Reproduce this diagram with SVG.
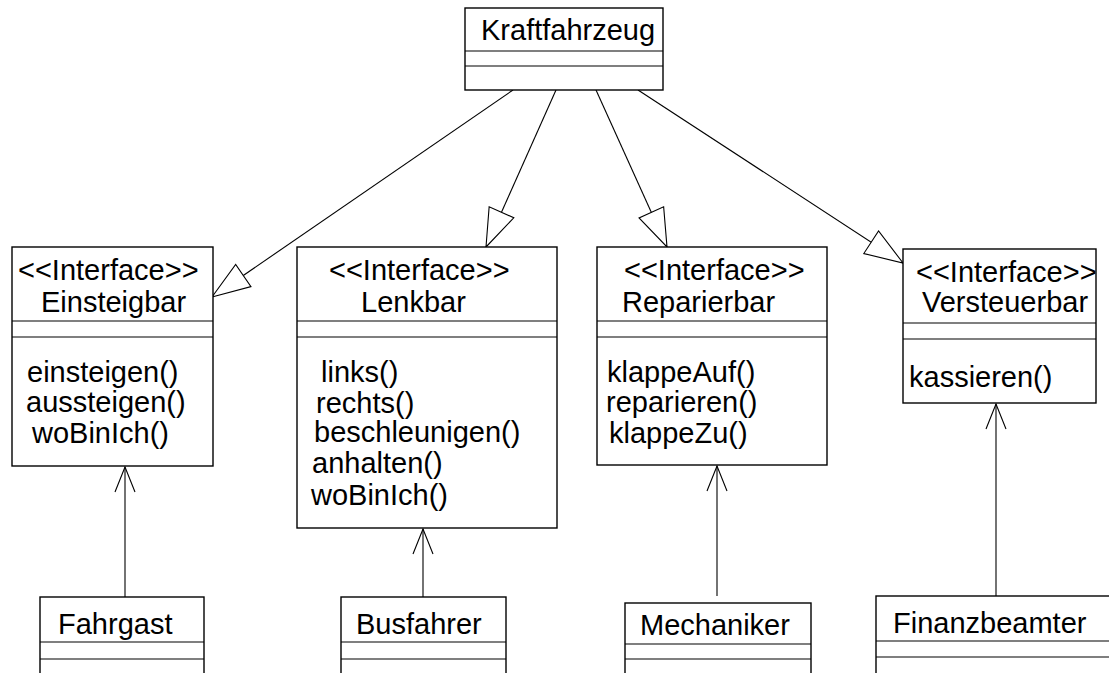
<svg xmlns="http://www.w3.org/2000/svg" width="1109" height="673" viewBox="0 0 1109 673">
  <style>
    .box { fill: #ffffff; stroke: #000000; stroke-width: 1.4; }
    .sep { stroke: #000000; stroke-width: 1.1; }
    .t { font-family: "Liberation Sans", Arial, sans-serif; font-size: 29px; fill: #000000; }
    .gen { fill: none; stroke: #000000; stroke-width: 1.1; marker-end: url(#hollow); }
    .dep { fill: none; stroke: #000000; stroke-width: 1.1; marker-end: url(#open); }
  </style>
  <defs>
    <!-- hollow triangle: generalization / realization -->
    <marker id="hollow" markerUnits="userSpaceOnUse" markerWidth="44" markerHeight="34" viewBox="-40 -17 44 34" refX="0" refY="0" orient="auto" overflow="visible">
      <path d="M0,0 L-38,-13.5 L-38,13.5 Z" fill="#ffffff" stroke="#000000" stroke-width="1.1"/>
    </marker>
    <!-- open arrowhead: usage dependency -->
    <marker id="open" markerUnits="userSpaceOnUse" markerWidth="30" markerHeight="26" viewBox="-28 -13 30 26" refX="0" refY="0" orient="auto" overflow="visible">
      <path d="M-25,-10 L0,0 L-25,10" fill="none" stroke="#000000" stroke-width="1.1"/>
    </marker>
  </defs>

  <!-- connectors -->
  <g id="connectors">
    <line class="gen" x1="513" y1="90" x2="212" y2="297"/>
    <line class="gen" x1="556" y1="90" x2="486" y2="247"/>
    <line class="gen" x1="596" y1="90" x2="667" y2="247"/>
    <line class="gen" x1="638" y1="90" x2="903" y2="263"/>
    <line class="dep" x1="125" y1="597" x2="125" y2="467"/>
    <line class="dep" x1="423" y1="597" x2="423" y2="529"/>
    <line class="dep" x1="717" y1="596" x2="717" y2="466"/>
    <line class="dep" x1="996" y1="596" x2="996" y2="404"/>
  </g>

  <!-- class Kraftfahrzeug -->
  <g id="kraftfahrzeug">
    <rect class="box" x="465" y="8" width="198" height="82"/>
    <line class="sep" x1="465" y1="51" x2="663" y2="51"/>
    <line class="sep" x1="465" y1="66" x2="663" y2="66"/>
    <text class="t" x="481" y="40">Kraftfahrzeug</text>
  </g>

  <!-- interface Einsteigbar -->
  <g id="einsteigbar">
    <rect class="box" x="12" y="247" width="201" height="219"/>
    <line class="sep" x1="12" y1="321" x2="213" y2="321"/>
    <line class="sep" x1="12" y1="337" x2="213" y2="337"/>
    <text class="t" x="18" y="280">&lt;&lt;Interface&gt;&gt;</text>
    <text class="t" x="41" y="312">Einsteigbar</text>
    <text class="t" x="27" y="382">einsteigen()</text>
    <text class="t" x="26" y="412">aussteigen()</text>
    <text class="t" x="32" y="443">woBinIch()</text>
  </g>

  <!-- interface Lenkbar -->
  <g id="lenkbar">
    <rect class="box" x="297" y="247" width="260" height="281"/>
    <line class="sep" x1="297" y1="321" x2="557" y2="321"/>
    <line class="sep" x1="297" y1="337" x2="557" y2="337"/>
    <text class="t" x="329" y="280">&lt;&lt;Interface&gt;&gt;</text>
    <text class="t" x="361" y="312">Lenkbar</text>
    <text class="t" x="321" y="382">links()</text>
    <text class="t" x="316" y="413">rechts()</text>
    <text class="t" x="314" y="442">beschleunigen()</text>
    <text class="t" x="312" y="473">anhalten()</text>
    <text class="t" x="311" y="505">woBinIch()</text>
  </g>

  <!-- interface Reparierbar -->
  <g id="reparierbar">
    <rect class="box" x="597" y="247" width="230" height="218"/>
    <line class="sep" x1="597" y1="321" x2="827" y2="321"/>
    <line class="sep" x1="597" y1="337" x2="827" y2="337"/>
    <text class="t" x="624" y="280">&lt;&lt;Interface&gt;&gt;</text>
    <text class="t" x="622" y="312">Reparierbar</text>
    <text class="t" x="607" y="382">klappeAuf()</text>
    <text class="t" x="606" y="412">reparieren()</text>
    <text class="t" x="609" y="443">klappeZu()</text>
  </g>

  <!-- interface Versteuerbar -->
  <g id="versteuerbar">
    <rect class="box" x="903" y="249" width="193" height="154"/>
    <line class="sep" x1="903" y1="323" x2="1096" y2="323"/>
    <line class="sep" x1="903" y1="339" x2="1096" y2="339"/>
    <text class="t" x="916" y="282">&lt;&lt;Interface&gt;&gt;</text>
    <text class="t" x="922" y="312">Versteuerbar</text>
    <text class="t" x="909" y="387">kassieren()</text>
  </g>

  <!-- client classes -->
  <g id="fahrgast">
    <rect class="box" x="40" y="597" width="164" height="100"/>
    <line class="sep" x1="40" y1="642" x2="204" y2="642"/>
    <line class="sep" x1="40" y1="659" x2="204" y2="659"/>
    <text class="t" x="58" y="634">Fahrgast</text>
  </g>
  <g id="busfahrer">
    <rect class="box" x="341" y="597" width="165" height="100"/>
    <line class="sep" x1="341" y1="642" x2="506" y2="642"/>
    <line class="sep" x1="341" y1="659" x2="506" y2="659"/>
    <text class="t" x="356" y="634">Busfahrer</text>
  </g>
  <g id="mechaniker">
    <rect class="box" x="625" y="603" width="186" height="100"/>
    <line class="sep" x1="625" y1="644" x2="811" y2="644"/>
    <line class="sep" x1="625" y1="659" x2="811" y2="659"/>
    <text class="t" x="640" y="635">Mechaniker</text>
  </g>
  <g id="finanzbeamter">
    <rect class="box" x="876" y="596" width="240" height="100"/>
    <line class="sep" x1="876" y1="641" x2="1116" y2="641"/>
    <line class="sep" x1="876" y1="657" x2="1116" y2="657"/>
    <text class="t" x="893" y="633">Finanzbeamter</text>
  </g>
</svg>
